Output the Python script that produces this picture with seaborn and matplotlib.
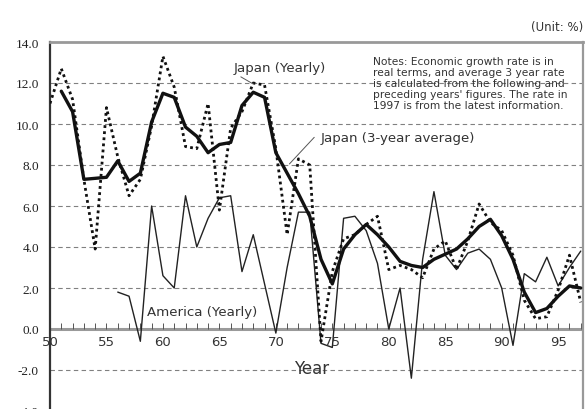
import numpy as np
import pandas as pd
import matplotlib
matplotlib.use("Agg")
import matplotlib.pyplot as plt
import seaborn as sns

# values (growth rate, %)
years = list(range(1950, 1998))
japan_yearly = [11.0, 12.7, 11.2, 7.3, 3.9, 10.8, 8.4, 6.5, 7.3, 9.9,
                13.3, 11.8, 8.9, 8.8, 11.0, 5.8, 9.8, 10.6, 12.0, 11.9,
                8.8, 4.6, 8.3, 8.0, -0.6, 2.8, 4.4, 4.6, 5.1, 5.5,
                2.9, 3.1, 2.9, 2.5, 3.9, 4.3, 2.9, 4.3, 6.1, 5.2,
                4.8, 3.6, 1.4, 0.5, 0.6, 1.9, 3.6, 1.3]

avg_years = list(range(1951, 1998))
japan_avg = [11.6, 10.6, 7.3, 7.35, 7.4, 8.2, 7.2, 7.6, 10.1,
             11.5, 11.3, 9.85, 9.4, 8.6, 9.0, 9.1, 10.9, 11.55, 11.3,
             8.6, 7.6, 6.6, 5.5, 3.4, 2.2, 3.9, 4.6, 5.1, 4.6,
             4.0, 3.3, 3.1, 3.0, 3.4, 3.65, 3.9, 4.4, 5.0, 5.35,
             4.55, 3.4, 1.8, 0.8, 1.0, 1.6, 2.1, 2.0]

us_years = list(range(1956, 1998))
america_yearly = [1.8, 1.6, -0.6, 6.0,
                  2.6, 2.0, 6.5, 4.0, 5.4, 6.4, 6.5, 2.8, 4.6, 2.2,
                  -0.2, 3.0, 5.7, 5.7, -0.7, -0.9, 5.4, 5.5, 4.8, 3.2,
                  0.0, 2.0, -2.4, 3.4, 6.7, 3.6, 2.9, 3.7, 3.9, 3.4,
                  2.0, -0.8, 2.7, 2.3, 3.5, 2.1, 3.0, 3.8]

xtick_years = [1950, 1955, 1960, 1965, 1970, 1975, 1980, 1985, 1990, 1995]
xtick_labels = ["50", "55", "60", "65", "70", "75", "80", "85", "90", "95"]
ytick_values = [-4, -2, 0, 2, 4, 6, 8, 10, 12, 14]

note = ("Notes: Economic growth rate is in\n"
        "real terms, and average 3 year rate\n"
        "is calculated from the following and\n"
        "preceding years' figures. The rate in\n"
        "1997 is from the latest information.")

sns.set_style("white")
plt.rcParams["font.family"] = ["DejaVu Sans"]

fig = plt.figure(figsize=(5.87, 4.10), dpi=100)
W, H = 587, 410
# axes: x 50..583 px, y value 14 at 43 px, -4 at 412 px
ax = fig.add_axes([50 / W, (H - 412) / H, 533 / W, 369 / H])

df_jy = pd.DataFrame({"year": years, "rate": japan_yearly})
df_ja = pd.DataFrame({"year": avg_years, "rate": japan_avg})
df_us = pd.DataFrame({"year": us_years, "rate": america_yearly})

sns.lineplot(data=df_us, x="year", y="rate", ax=ax, color="#222222",
             lw=1.0, zorder=3)
sns.lineplot(data=df_jy, x="year", y="rate", ax=ax, color="#111111",
             lw=2.0, linestyle=(0, (1.0, 1.2)), zorder=4)
sns.lineplot(data=df_ja, x="year", y="rate", ax=ax, color="#111111",
             lw=2.4, zorder=5)

ax.set_xlim(1950, 1997.2)
ax.set_ylim(-4, 14)

# horizontal dashed grid
for v in ytick_values:
    if v not in (0, -4, 14):
        ax.axhline(v, color="#808080", lw=0.8, ls=(0, (4, 3)), zorder=1)

# zero axis with small year ticks
ax.axhline(0, color="#9a9a9a", lw=2.2, zorder=2)
ax.vlines(years, 0, 0.28, color="#555555", lw=0.7, zorder=2)

ax.set_xticks([])
ax.set_yticks(ytick_values)
ax.set_yticklabels([f"{v:.1f}" for v in ytick_values],
                   family="Liberation Serif", fontsize=9.5, color="#222222")
ax.tick_params(axis="y", length=0, pad=8)
ax.set_xlabel("")
ax.set_ylabel("")

for yr, lab in zip(xtick_years, xtick_labels):
    ax.text(yr, -0.6, lab, ha="center", va="center", fontsize=9.5,
            color="#333333", zorder=6)

ax.text(1973.2, -1.9, "Year", ha="center", va="center", fontsize=12,
        color="#333333")

ax.spines["bottom"].set_visible(False)
ax.spines["left"].set_color("#333333")
ax.spines["left"].set_linewidth(1.6)
ax.spines["top"].set_color("#999999")
ax.spines["top"].set_linewidth(2.0)
ax.spines["right"].set_color("#999999")
ax.spines["right"].set_linewidth(1.6)

# annotations with leader lines
ax.text(1966.3, 12.75, "Japan (Yearly)", fontsize=9.6, color="#333333",
        va="center", ha="left")
ax.plot([1966.9, 1968.0], [12.3, 11.95], color="#555555", lw=0.7, zorder=6)

ax.text(1974.0, 9.35, "Japan (3-year average)", fontsize=9.6,
        color="#333333", va="center", ha="left")
ax.plot([1973.4, 1971.2], [9.35, 8.05], color="#555555", lw=0.7, zorder=6)

ax.text(1958.6, 0.85, "America (Yearly)", fontsize=9.6, color="#333333",
        va="center", ha="left")

ax.text(1978.6, 13.3, note, fontsize=7.7, color="#333333", va="top",
        ha="left", linespacing=1.12)

fig.text(583 / W, 1 - 28 / H, "(Unit: %)", ha="right", va="center",
         fontsize=8.5, color="#333333")

fig.savefig("out.png", dpi=100)
